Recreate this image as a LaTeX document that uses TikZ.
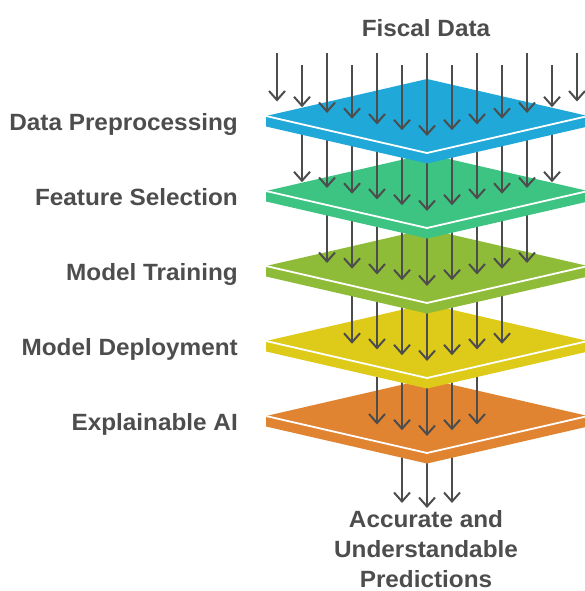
\documentclass[tikz,border=0pt]{standalone}
\usepackage{fontspec}
\setmainfont[FakeStretch=1.035]{Liberation Sans}
\usetikzlibrary{arrows.meta}
\definecolor{txtgray}{HTML}{4D4D4D}
\definecolor{plblue}{HTML}{20A8D8}
\definecolor{plgreen}{HTML}{3DC483}
\definecolor{plolive}{HTML}{8FBC38}
\definecolor{plyellow}{HTML}{DECA18}
\definecolor{plorange}{HTML}{E08432}

\begin{document}
\begin{tikzpicture}[
    x=1pt, y=-1pt,
    every node/.style={font=\bfseries\fontsize{23.5}{30}\selectfont, text=txtgray, inner sep=0pt},
    flow/.style={-{Straight Barb[length=9pt,width=16pt]}, line width=2pt, draw=txtgray},
    rim/.style={draw=white, line width=1.8pt},
]
\useasboundingbox (0,0) rectangle (585,591);

% output arrows
\foreach \i in {0,1,2} {
  \pgfmathsetmacro\dx{25*\i-25}
  \coordinate (s6-\i) at ({427+\dx},440);
  \coordinate (e6-\i) at ({427+\dx},{508-0.2*abs(\dx)});
  \draw[flow] (s6-\i) -- (e6-\i);
}

% plates, bottom to top
\foreach \k/\col/\txt in {5/plorange/Explainable AI, 4/plyellow/Model Deployment,
    3/plolive/Model Training, 2/plgreen/Feature Selection, 1/plblue/Data Preprocessing} {
  \pgfmathsetmacro\c{116+75*(\k-1)}
  \pgfmathtruncatemacro\n{14-2*\k}
  \coordinate (P\k) at (427,\c);
  \fill[\col] (266,\c) -- (427,{\c-37}) -- (588,\c) -- (588,{\c+10.5})
    -- (427,{\c+47.5}) -- (266,{\c+10.5}) -- cycle;
  \draw[rim] (266,\c) -- (427,{\c+37}) -- (588,\c);
  \node[anchor=base east] (lbl\k) at (238,{\c+14}) {\txt};
  % arrows into the plate
  \foreach \i in {0,...,\n} {
    \pgfmathsetmacro\dx{25*\i-12.5*\n}
    \pgfmathsetmacro\ys{ifthenelse(\k==1, ifthenelse(mod(\i,2)==0,53,65), \c-75)}
    \coordinate (s\k-\i) at ({427+\dx},\ys);
    \coordinate (e\k-\i) at ({427+\dx},{\c+20-0.23*abs(\dx)});
    \draw[flow] (s\k-\i) -- (e\k-\i);
  }
}

% source and result
\node[anchor=base] (src) at (426,37) {Fiscal Data};
\node[anchor=north, align=center] (out) at (426,510) {Accurate and\\Understandable\\Predictions};

\end{tikzpicture}
\end{document}
